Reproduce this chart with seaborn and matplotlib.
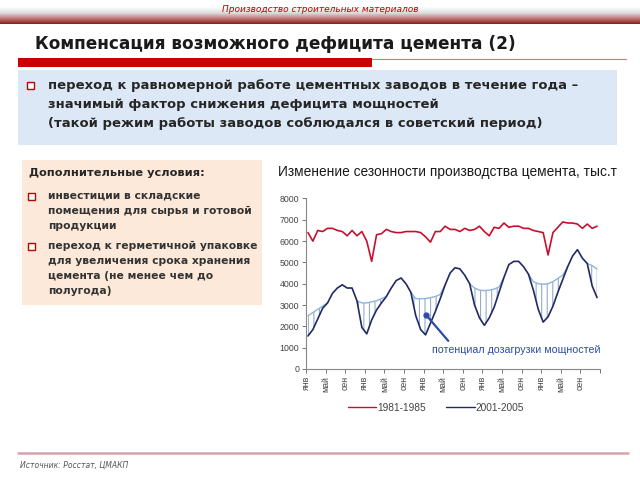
import numpy as np
import pandas as pd
import matplotlib
matplotlib.use("Agg")
import matplotlib.pyplot as plt
import seaborn as sns
from matplotlib.colors import LinearSegmentedColormap
from matplotlib.patches import Rectangle
from matplotlib.lines import Line2D

# ---------------- data ----------------
tick_labels = ["янв", "май", "сен"] * 5
period_old = "1981-1985"
period_new = "2001-2005"

prod_1981_1985 = [
    6400, 6000, 6500, 6450, 6600, 6600, 6500, 6450, 6250, 6500, 6250, 6450,
    6000, 5050, 6300, 6350, 6550, 6450, 6400, 6400, 6450, 6450, 6450, 6400,
    6200, 5950, 6450, 6450, 6700, 6550, 6550, 6450, 6600, 6500, 6550, 6700,
    6450, 6250, 6650, 6600, 6850, 6650, 6700, 6700, 6600, 6600, 6500, 6450,
    6400, 5350, 6400, 6650, 6900, 6850, 6850, 6800, 6600, 6800, 6600, 6700,
]
prod_2001_2005 = [
    1550, 1850, 2350, 2850, 3100, 3550, 3800, 3950, 3800, 3800, 3200, 1950,
    1650, 2300, 2770, 3100, 3400, 3800, 4150, 4270, 4000, 3600, 2500, 1850,
    1600, 2150, 2700, 3300, 3950, 4500, 4750, 4700, 4400, 4000, 3000, 2400,
    2050, 2400, 2900, 3600, 4300, 4900, 5050, 5050, 4800, 4450, 3700, 2800,
    2200, 2450, 2950, 3600, 4200, 4800, 5300, 5600, 5200, 4950, 3900, 3350,
]
N = None
potential_load = [
    2500, 2650, 2800, 2950, 3100, N, N, N, N, N, 3200, 3100,
    3100, 3150, 3200, 3300, 3400, N, N, N, N, 3600, 3300, 3300,
    3300, 3350, 3400, 3500, 3950, N, N, N, N, 4000, 3800, 3700,
    3680, 3700, 3750, 3850, 4300, N, N, N, N, 4450, 4100, 4000,
    3980, 4000, 4100, 4250, 4400, 4800, N, N, N, 4950, 4850, 4700,
]
months = list(range(len(prod_2001_2005)))

# ---------------- style ----------------
sns.set_theme(style="ticks")
plt.rcParams['font.family'] = ['DejaVu Sans']
plt.rcParams['hatch.linewidth'] = 0.8

W, H = 640, 480
def fx(px):
    return px / W
def fy(py):
    return 1 - py / H

fig = plt.figure(figsize=(6.4, 4.8), dpi=100)
fig.patch.set_facecolor("white")

# header gradient bar
ax_h = fig.add_axes([0, fy(24), 1, 17 / H])
grad = np.linspace(0, 1, 80).reshape(-1, 1)
cmap = LinearSegmentedColormap.from_list(
    "hdr", [(0, "#ffffff"), (0.35, "#dcdcdc"), (0.65, "#c48080"), (1, "#8c1c1c")])
ax_h.imshow(grad, aspect="auto", cmap=cmap, extent=[0, 1, 1, 0])
ax_h.axis("off")
fig.text(0.5, fy(10), "Производство строительных материалов", ha="center", va="center",
         fontsize=6.5, style="italic", color="#c00000")

# title
fig.text(fx(35), fy(44), "Компенсация возможного дефицита цемента (2)", ha="left", va="center",
         fontsize=12.2, fontweight="bold", color="#1a1a1a")
fig.patches.append(Rectangle((fx(18), fy(67)), fx(372 - 18), 9 / H, transform=fig.transFigure,
                             facecolor="#cc0000", edgecolor="none"))
fig.lines.append(Line2D([fx(372), fx(626)], [fy(59), fy(59)], transform=fig.transFigure,
                        color="#d07a7a", lw=0.8))

# blue box
fig.patches.append(Rectangle((fx(18), fy(145)), fx(617 - 18), 75 / H, transform=fig.transFigure,
                             facecolor="#dce8f6", edgecolor="none"))
def bullet(px, py):
    fig.patches.append(Rectangle((fx(px), fy(py + 3.5)), 7 / W, 7 / H, transform=fig.transFigure,
                                 facecolor="white", edgecolor="#c00000", lw=1.0))
bullet(27, 85)
blue_lines = ["переход к равномерной работе цементных заводов в течение года –",
              "значимый фактор снижения дефицита мощностей",
              "(такой режим работы заводов соблюдался в советский период)"]
for k, t in enumerate(blue_lines):
    fig.text(fx(48), fy(85 + k * 19.5), t, ha="left", va="center", fontsize=9.45,
             fontweight="bold", color="#262626")

# peach box
fig.patches.append(Rectangle((fx(22), fy(305)), fx(262 - 22), 145 / H, transform=fig.transFigure,
                             facecolor="#fde9d9", edgecolor="none"))
fig.text(fx(29), fy(173), "Дополнительные условия:", ha="left", va="center", fontsize=8.2,
         fontweight="bold", color="#262626")
bullet(28, 196)
bullet(28, 246)
peach_lines = [(196, "инвестиции в складские"), (211, "помещения для сырья и готовой"),
               (226, "продукции"), (246, "переход к герметичной упаковке"),
               (261, "для увеличения срока хранения"), (276, "цемента (не менее чем до"),
               (291, "полугода)")]
for py, t in peach_lines:
    fig.text(fx(48), fy(py), t, ha="left", va="center", fontsize=7.75, fontweight="bold",
             color="#333333")

# footer
fig.lines.append(Line2D([fx(18), fx(628)], [fy(453), fy(453)], transform=fig.transFigure,
                        color="#d8a4ac", lw=1.8))
fig.text(fx(20), fy(465), "Источник: Росстат, ЦМАКП", ha="left", va="center", fontsize=5.5,
         style="italic", color="#555555")

# ---------------- chart ----------------
ax = fig.add_axes([fx(306), fy(369), fx(600 - 306), (369 - 198.5) / H])
chart_font = ['Liberation Sans', 'DejaVu Sans']

df = pd.DataFrame({
    "month": months * 2,
    "value": prod_1981_1985 + prod_2001_2005,
    "period": [period_old] * len(months) + [period_new] * len(months),
})
pot = np.array([np.nan if v is None else v for v in potential_load], dtype=float)
dark = np.array(prod_2001_2005, dtype=float)
pot_f = np.where(np.isnan(pot), dark, pot)

ax.fill_between(months, dark, pot_f, where=pot_f > dark, interpolate=True,
                facecolor="none", edgecolor="#93adc6", hatch="|||", linewidth=0, zorder=1)
ax.plot(months, pot, color="#8fb4dc", lw=1.0, zorder=2)
sns.lineplot(data=df, x="month", y="value", hue="period",
             palette={period_old: "#c8102e", period_new: "#1f2a66"},
             linewidth=1.2, ax=ax, legend=False, zorder=3)

ax.set_xlim(-0.4, 59.6)
ax.set_ylim(0, 8000)
ax.set_yticks(range(0, 8001, 1000))
ax.set_xticks([-0.4 + 4 * k for k in range(16)])
ax.set_xticklabels(tick_labels + [""], rotation=90, fontsize=6.3, color="#444444",
                   family=chart_font)
for lab in ax.get_yticklabels():
    lab.set_fontsize(6.3)
    lab.set_color("#444444")
    lab.set_family(chart_font)
ax.set_xlabel("")
ax.set_ylabel("")
ax.tick_params(axis="both", length=3, width=0.7, color="#777777", pad=2)
sns.despine(ax=ax)
for s in ["left", "bottom"]:
    ax.spines[s].set_color("#888888")
    ax.spines[s].set_linewidth(0.8)
ax.set_facecolor("none")

# annotation
ax.annotate("", xy=(24.1, 2535), xytext=(29.0, 1220),
            arrowprops=dict(arrowstyle="-", color="#2c4aa8", lw=1.6), zorder=4)
ax.plot([24.1], [2535], marker="o", ms=3.5, color="#2c4aa8", zorder=5)
ax.text(25.3, 880, "потенциал дозагрузки мощностей", ha="left", va="center", fontsize=7.7,
        color="#2c4aa8", family=chart_font)

fig.text(fx(278), fy(172), "Изменение сезонности производства цемента, тыс.т", ha="left",
         va="center", fontsize=9.9, color="#1a1a1a", family=chart_font)

handles = [Line2D([], [], color="#c8102e", lw=1.0), Line2D([], [], color="#1f2a66", lw=1.0)]
leg = fig.legend(handles, [period_old, period_new], loc="center", ncol=2,
                 bbox_to_anchor=(fx(436), fy(408)), frameon=False,
                 handlelength=2.8, columnspacing=2.0, handletextpad=0.1,
                 prop={"family": chart_font, "size": 7.3})
for t in leg.get_texts():
    t.set_color("#444444")

fig.savefig("out.png", dpi=100)
